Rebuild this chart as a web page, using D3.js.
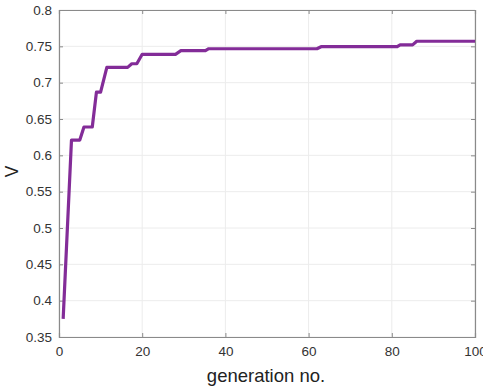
<!DOCTYPE html>
<html>
<head>
<meta charset="utf-8">
<script src="https://cdn.jsdelivr.net/npm/d3@7"></script>
<style>
  html, body { margin: 0; padding: 0; background: #fff; }
  svg { display: block; }
  text { font-family: "Liberation Sans", Arial, sans-serif; }
</style>
</head>
<body>
<svg id="chart" width="483" height="390"></svg>
<script>
// Best value found so far, per generation (change points of the step curve)
const generations = [1, 3, 5, 6, 8, 9, 10, 11.5, 16.5, 17.5, 18.7, 20, 28, 29.3, 35.2, 36, 62, 63, 81.3, 82, 85, 86, 100];
const values      = [0.375, 0.621, 0.621, 0.639, 0.639, 0.687, 0.687, 0.721, 0.721, 0.726, 0.726, 0.739, 0.739, 0.744, 0.744, 0.7467, 0.7467, 0.7495, 0.7495, 0.752, 0.752, 0.757, 0.757];

const xTicks = [0, 20, 40, 60, 80, 100];
const yTicks = [0.35, 0.4, 0.45, 0.5, 0.55, 0.6, 0.65, 0.7, 0.75, 0.8];
const xLabel = "generation no.";
const yLabel = "V";

const margin = { left: 59, right: 8, top: 10, bottom: 53 };
const W = 483, H = 390;
const svg = d3.select("#chart");

const x = d3.scaleLinear().domain([0, 100]).range([margin.left, W - margin.right]);
const y = d3.scaleLinear().domain([0.35, 0.8]).range([H - margin.bottom, margin.top]);

const fmt = d => String(+d.toFixed(2));

// Grid
const grid = svg.append("g");
grid.selectAll(".gx").data(xTicks).join("line")
  .attr("x1", d => x(d)).attr("x2", d => x(d))
  .attr("y1", y(0.35)).attr("y2", y(0.8))
  .attr("stroke", "#ececec").attr("stroke-width", 1);
grid.selectAll(".gy").data(yTicks).join("line")
  .attr("x1", x(0)).attr("x2", x(100))
  .attr("y1", d => y(d)).attr("y2", d => y(d))
  .attr("stroke", "#ececec").attr("stroke-width", 1);

// Axes with inward ticks
const xAxis = d3.axisBottom(x).tickValues(xTicks).tickSize(-4).tickPadding(9).tickFormat(d3.format("d"));
const yAxis = d3.axisLeft(y).tickValues(yTicks).tickSize(-4).tickPadding(7).tickFormat(fmt);

const gx = svg.append("g").attr("transform", `translate(0,${y(0.35)})`).call(xAxis);
const gy = svg.append("g").attr("transform", `translate(${x(0)},0)`).call(yAxis);
const gxTop = svg.append("g").attr("transform", `translate(0,${y(0.8)})`)
  .call(d3.axisTop(x).tickValues(xTicks).tickSize(-4).tickFormat(""));
const gyRight = svg.append("g").attr("transform", `translate(${x(100)},0)`)
  .call(d3.axisRight(y).tickValues(yTicks).tickSize(-4).tickFormat(""));

[gx, gy, gxTop, gyRight].forEach(g => {
  g.select(".domain").attr("stroke", "#8a8a8a").attr("stroke-width", 1.2);
  g.selectAll(".tick line").attr("stroke", "#8a8a8a");
  g.selectAll(".tick text").attr("fill", "#333").attr("font-size", 13.5)
    .attr("font-family", "'Liberation Sans', Arial, sans-serif");
});

// Curve
const line = d3.line().x((d, i) => x(generations[i])).y(d => y(d));
svg.append("path").datum(values)
  .attr("d", line)
  .attr("fill", "none")
  .attr("stroke", "#832c98")
  .attr("stroke-width", 3.2)
  .attr("stroke-linejoin", "round");

// Labels
svg.append("text")
  .attr("x", 266).attr("y", 382)
  .attr("text-anchor", "middle").attr("font-size", 18.5).attr("fill", "#222")
  .text(xLabel);
svg.append("text")
  .attr("transform", `translate(18,${(y(0.35) + y(0.8)) / 2 - 2}) rotate(-90)`)
  .attr("text-anchor", "middle").attr("font-size", 17.5).attr("fill", "#222")
  .text(yLabel);
</script>
</body>
</html>
